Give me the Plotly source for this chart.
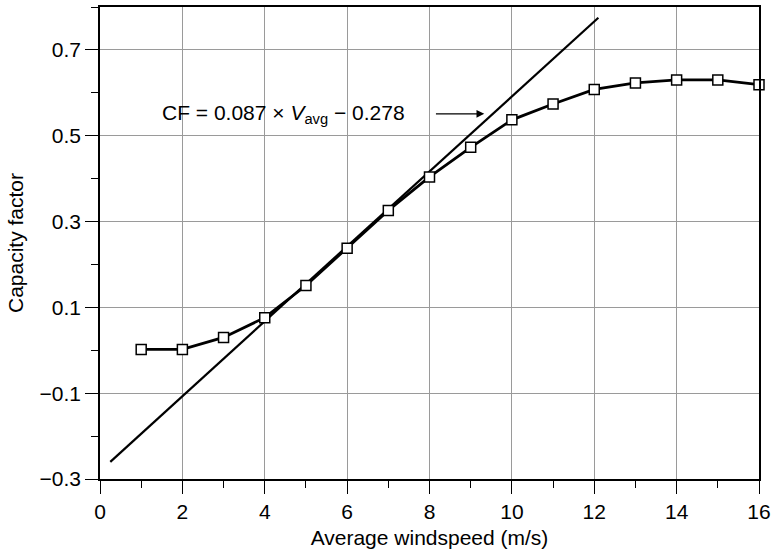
import plotly.graph_objects as go

# Measured capacity factor vs average windspeed
windspeed = [1, 2, 3, 4, 5, 6, 7, 8, 9, 10, 11, 12, 13, 14, 15, 16]
capacity_factor = [0.002, 0.002, 0.03, 0.076, 0.151, 0.238, 0.326, 0.404, 0.473,
                   0.537, 0.574, 0.608, 0.623, 0.630, 0.630, 0.619]

# Linear fit line endpoints (CF = 0.087 x Vavg - 0.278)
fit_x = [0.25, 12.1]
fit_y = [-0.26, 0.775]

font = "Liberation Sans, Arial, Helvetica, sans-serif"

fig = go.Figure()

fig.add_trace(go.Scatter(x=fit_x, y=fit_y, mode="lines",
                         line=dict(color="black", width=2.2), showlegend=False))

fig.add_trace(go.Scatter(x=windspeed, y=capacity_factor, mode="lines+markers",
                         line=dict(color="black", width=2.8),
                         marker=dict(symbol="square", size=10, color="white",
                                     line=dict(color="black", width=1.5)),
                         cliponaxis=False, showlegend=False))

fig.add_annotation(x=1.45, y=0.551, xanchor="left", yanchor="middle",
                   text="CF = 0.087 × <i>V</i><sub>avg</sub> − 0.278",
                   showarrow=False, font=dict(size=21, color="black", family=font))
fig.add_annotation(x=9.33, y=0.551, ax=8.12, ay=0.551, xref="x", yref="y",
                   axref="x", ayref="y", text="", showarrow=True,
                   arrowhead=2, arrowsize=1.2, arrowwidth=1.3, arrowcolor="black")

fig.update_layout(
    width=776, height=555,
    margin=dict(l=100, r=14, t=5, b=76),
    paper_bgcolor="white", plot_bgcolor="white",
    font=dict(family=font, size=21, color="black"),
    xaxis=dict(range=[0, 16], dtick=2, tick0=0,
               showgrid=True, gridcolor="#9a9a9a", gridwidth=1,
               showline=True, linecolor="black", linewidth=1.5, mirror=True,
               ticks="outside", ticklen=13, tickwidth=1.3, tickcolor="black",
               minor=dict(dtick=1, tick0=0, ticks="outside", ticklen=7,
                          tickcolor="black", showgrid=False),
               zeroline=False,
               title=dict(text="Average windspeed (m/s)", standoff=8,
                          font=dict(size=21))),
    yaxis=dict(range=[-0.3, 0.8], dtick=0.2, tick0=0.1,
               tickformat=".1f",
               showgrid=True, gridcolor="#9a9a9a", gridwidth=1,
               showline=True, linecolor="black", linewidth=1.5, mirror=True,
               ticks="outside", ticklen=13, tickwidth=1.3, tickcolor="black",
               minor=dict(dtick=0.1, tick0=0.1, ticks="outside", ticklen=7,
                          tickcolor="black", showgrid=False),
               zeroline=False,
               title=dict(text="Capacity factor", standoff=10,
                          font=dict(size=21))),
)

# remove the page's default body margin so the figure sits at the corner
fig.write_html("out.html", config={"displayModeBar": False},
               post_script="document.body.style.margin='0';")
